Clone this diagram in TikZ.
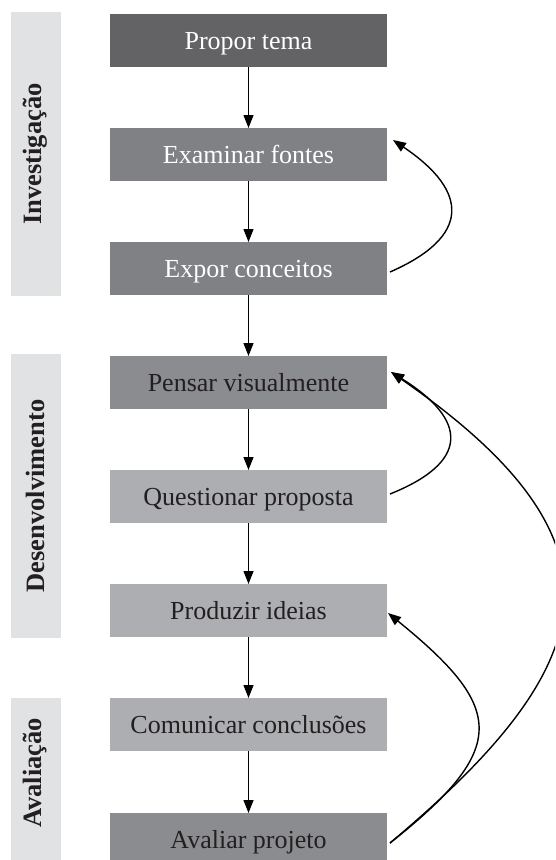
\documentclass[tikz,border=0pt]{standalone}
\usepackage{fontspec}
\setmainfont{Liberation Serif}
\usepackage{tikz}
\usetikzlibrary{arrows.meta}
\definecolor{barfill}{RGB}{225,226,228}
\definecolor{stepdark}{RGB}{99,99,102}
\definecolor{stepmid}{RGB}{128,129,133}
\definecolor{stepgrey}{RGB}{139,140,143}
\definecolor{steplight}{RGB}{173,174,177}
\definecolor{inkdark}{RGB}{35,31,32}
\tikzset{every node/.append style={font=\fontsize{26}{31}\selectfont}}
\tikzset{
  stepbox/.style={minimum width=277pt, minimum height=53pt, inner sep=0pt, outer sep=0pt,
                  text height=17pt, text depth=0pt, text=inkdark},
  phaselabel/.style={rotate=90, inner sep=0pt, text=inkdark, font=\fontsize{26.5}{31}\selectfont\bfseries}
}

\begin{document}
\begin{tikzpicture}[x=1pt, y=-1pt, >={Triangle[length=13pt,width=10pt]}, line width=1.4pt]
    \useasboundingbox (0,0) rectangle (555,860);
    \clip (0,0) rectangle (555,860);
    % phase bars on the left
    \fill[barfill] (11,12) rectangle (61,296);
    \fill[barfill] (11,354) rectangle (61,638);
    \fill[barfill] (11,698) rectangle (61,860);
    \node[phaselabel] (investigacao) at (35,154) {Investigação};
    \node[phaselabel] (desenvolvimento) at (35,496) {Desenvolvimento};
    \node[phaselabel] (avaliacao) at (35,773) {Avaliação};
    % steps of the process
    \node[stepbox, fill=stepdark, text=white] (propor) at (248.5,40.5) {Propor tema};
    \node[stepbox, fill=stepmid, text=white] (examinar) at (248.5,154.5) {Examinar fontes};
    \node[stepbox, fill=stepmid, text=white] (expor) at (248.5,268.5) {Expor conceitos};
    \node[stepbox, fill=stepgrey] (pensar) at (248.5,382.5) {Pensar visualmente};
    \node[stepbox, fill=steplight] (questionar) at (248.5,496.5) {Questionar proposta};
    \node[stepbox, fill=steplight] (produzir) at (248.5,610.5) {Produzir ideias};
    \node[stepbox, fill=steplight] (comunicar) at (248.5,724.5) {Comunicar conclusões};
    \node[stepbox, fill=stepgrey] (avaliar) at (248.5,839.5) {Avaliar projeto};
    % straight arrows down the column
    \foreach \a/\b in {propor/examinar, examinar/expor, expor/pensar, pensar/questionar,
                       questionar/produzir, produzir/comunicar, comunicar/avaliar}
        \draw[->] (\a) -- (\b);
    % loops back on the right
    \draw[->] ([xshift=3pt,yshift=-3.5pt]expor.east) .. controls +(80,-35) and +(77,52) .. ([xshift=6pt,yshift=-12pt]examinar.north east);
    \draw[->] ([xshift=3pt,yshift=2.5pt]questionar.east) .. controls +(80,-32) and +(77,48) .. ([xshift=4pt,yshift=-16pt]pensar.north east);
    \draw[->] ([xshift=3pt,yshift=-3.5pt]avaliar.east) .. controls +(215,-180) and +(245,170) .. ([xshift=4pt,yshift=-16pt]pensar.north east);
    \draw[->] ([xshift=3pt,yshift=-3.5pt]avaliar.east) .. controls +(120,-95) and +(117,95) .. ([xshift=1pt,yshift=-29pt]produzir.north east);
\end{tikzpicture}
\end{document}
